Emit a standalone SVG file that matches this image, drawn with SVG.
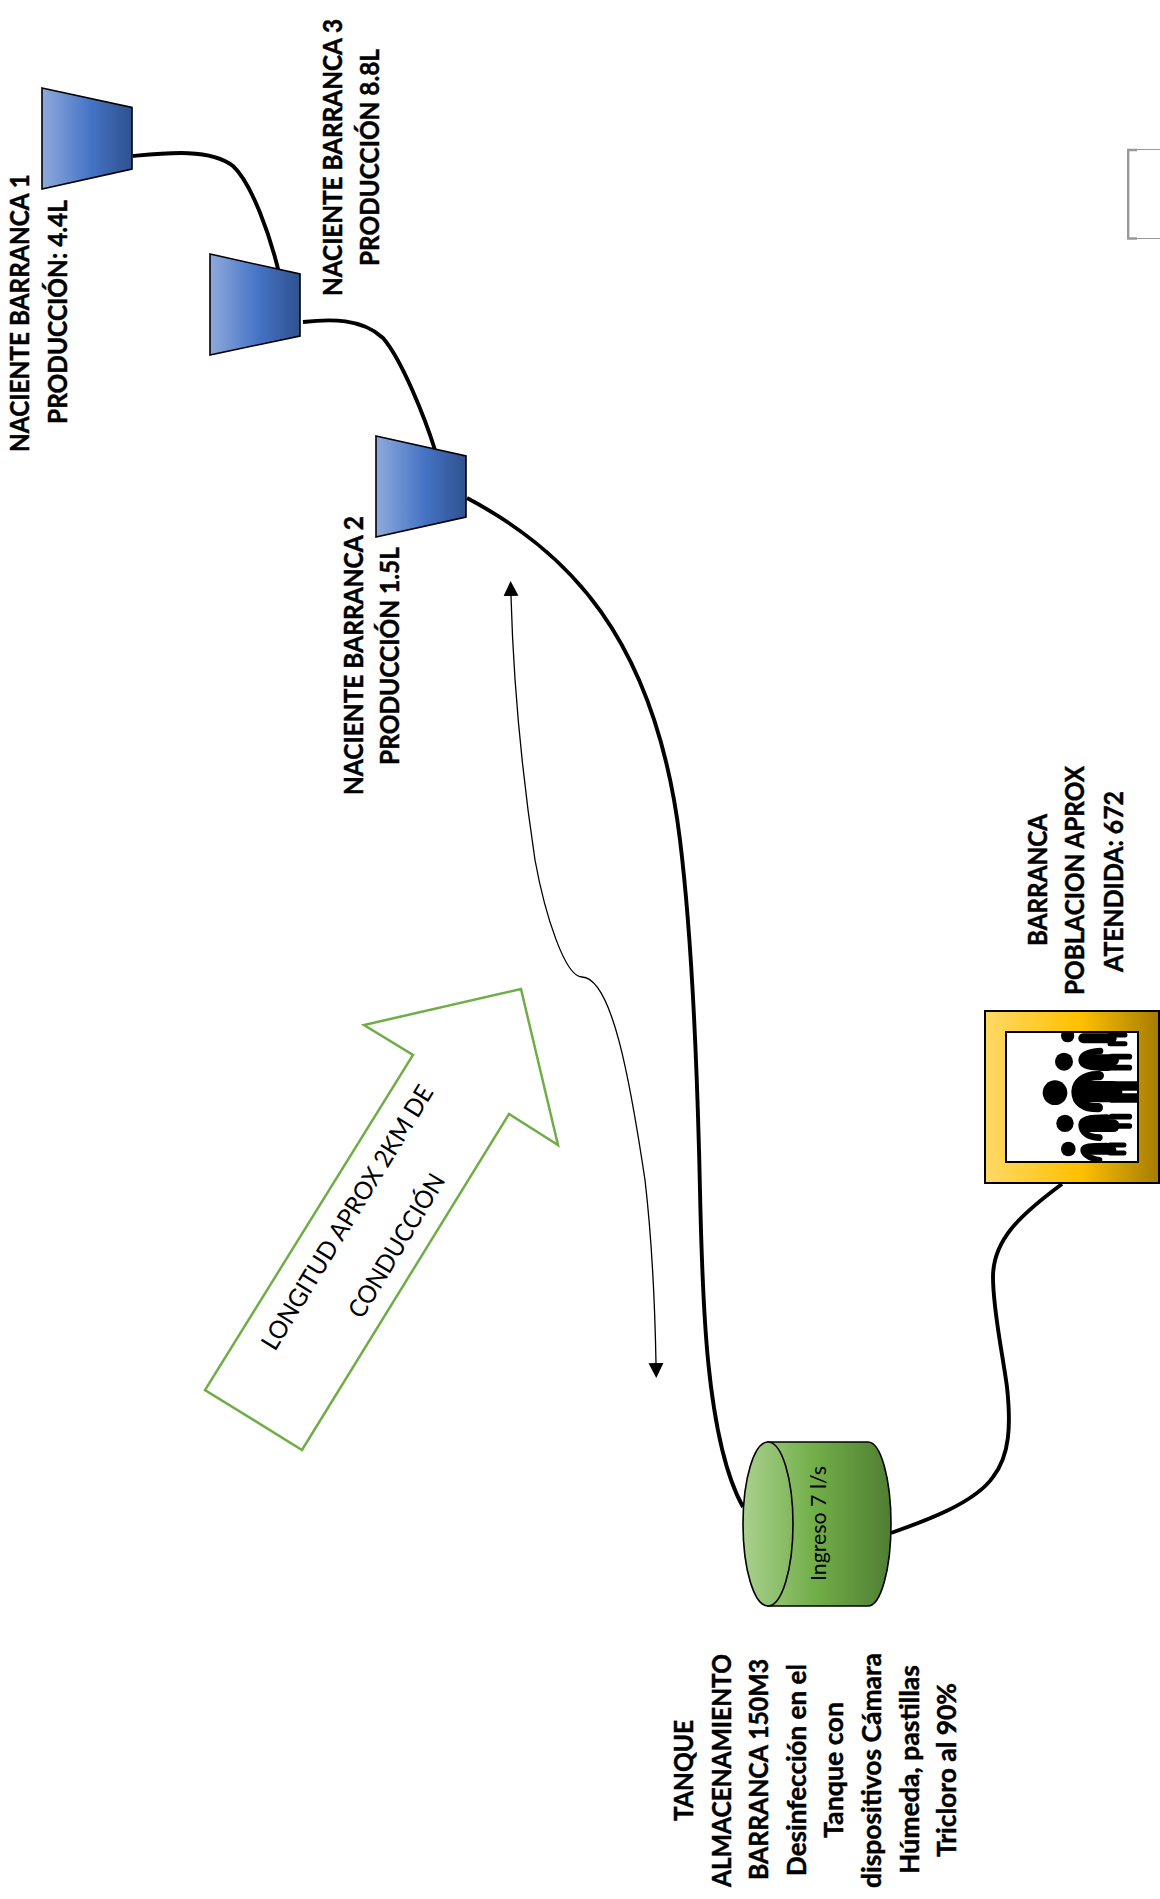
<svg xmlns="http://www.w3.org/2000/svg" width="1160" height="1899" viewBox="0 0 1160 1899">
<style>
text{font-family:"Lato","Open Sans","Liberation Sans",sans-serif;fill:#000}
.b{font-weight:700;font-size:26px;stroke:#000;stroke-width:.45}
.r{font-size:25px}
.trap{stroke:#000;stroke-width:1.6}
.wire{fill:none;stroke:#000;stroke-width:3.9}
.thin{fill:none;stroke:#000;stroke-width:1.3}
.person{fill:none;stroke:#000;stroke-linecap:round;stroke-linejoin:round}
</style>
<defs>
<linearGradient id="g1" gradientUnits="userSpaceOnUse" x1="42" x2="132" y1="0" y2="0"><stop offset="0" stop-color="#8faadc"/><stop offset=".55" stop-color="#4472c4"/><stop offset="1" stop-color="#2f528f"/></linearGradient>
<linearGradient id="g2" href="#g1" gradientUnits="userSpaceOnUse" x1="210" x2="300" y1="0" y2="0"/>
<linearGradient id="g3" href="#g1" gradientUnits="userSpaceOnUse" x1="376" x2="466" y1="0" y2="0"/>
<linearGradient id="gg" gradientUnits="userSpaceOnUse" x1="743" x2="891" y1="0" y2="0"><stop offset="0" stop-color="#a9d18e"/><stop offset=".5" stop-color="#70ad47"/><stop offset="1" stop-color="#507e32"/></linearGradient>
<linearGradient id="gy" gradientUnits="userSpaceOnUse" x1="985" x2="1159" y1="0" y2="0"><stop offset="0" stop-color="#ffd966"/><stop offset=".55" stop-color="#ffc000"/><stop offset="1" stop-color="#a67c00"/></linearGradient>
<marker id="tri" markerUnits="userSpaceOnUse" markerWidth="16" markerHeight="16" refX="0" refY="8" orient="auto-start-reverse"><path d="M0 0.5L15 8L0 15.5Z" fill="#000"/></marker>
<clipPath id="ic"><rect x="1006" y="1032" width="132" height="130"/></clipPath>
<filter id="soft" x="-5%" y="-5%" width="110%" height="110%"><feGaussianBlur stdDeviation="0.7"/></filter>
</defs>
<rect width="1160" height="1899" fill="#fff"/>

<g id="connectors">
<path class="wire" d="M133 156C165 153 210 148 233 166C252 184 270 235 279 273"/>
<path class="wire" d="M303 322C330 319 362 318 383 338C402 360 425 418 435 450"/>
<path class="wire" d="M467 498C565 550 655 635 680 840C688 905 695 1000 699 1150C702 1250 700 1430 743 1507"/>
<path class="wire" d="M891 1533C925 1521 975 1503 993 1477C1010 1455 1011 1425 1007 1387C1002 1350 993 1310 993 1277C993 1240 1020 1215 1062 1184"/>
<path class="thin" marker-start="url(#tri)" marker-end="url(#tri)" d="M511 596C513 670 520 760 535 860C545 915 565 977 582 977C612 978 630 1080 645 1180C652 1240 655 1310 656 1363"/>
</g>

<g id="naciente-1">
<polygon class="trap" points="42,88 132,107.5 132,169 42,189" fill="url(#g1)"/>
<text class="b" transform="translate(29,452) rotate(-90)" textLength="278" lengthAdjust="spacingAndGlyphs">NACIENTE BARRANCA 1</text>
<text class="b" transform="translate(67,424) rotate(-90)" textLength="224" lengthAdjust="spacingAndGlyphs">PRODUCCIÓN: 4.4L</text>
</g>
<g id="naciente-3">
<polygon class="trap" points="210,254 300,274 300,336 210,355" fill="url(#g2)"/>
<text class="b" transform="translate(342,296) rotate(-90)" textLength="277" lengthAdjust="spacingAndGlyphs">NACIENTE BARRANCA 3</text>
<text class="b" transform="translate(379,266) rotate(-90)" textLength="217" lengthAdjust="spacingAndGlyphs">PRODUCCIÓN 8.8L</text>
</g>
<g id="naciente-2">
<polygon class="trap" points="376,436 466,456 466,517 376,537" fill="url(#g3)"/>
<text class="b" transform="translate(363,795) rotate(-90)" textLength="279" lengthAdjust="spacingAndGlyphs">NACIENTE BARRANCA 2</text>
<text class="b" transform="translate(399,765) rotate(-90)" textLength="218" lengthAdjust="spacingAndGlyphs">PRODUCCIÓN 1.5L</text>
</g>

<g id="flecha-longitud">
<polygon points="521,989 558,1145 509,1114 302,1450 205,1390 413,1055 364,1025" fill="none" stroke="#70ad47" stroke-width="2.5"/>
<text class="r" transform="translate(275,1352) rotate(-58.5)" textLength="305" lengthAdjust="spacingAndGlyphs">LONGITUD APROX 2KM DE</text>
<text class="r" transform="translate(362,1320) rotate(-59)" textLength="163" lengthAdjust="spacingAndGlyphs">CONDUCCIÓN</text>
</g>

<g id="poblacion">
<rect x="985" y="1011" width="174" height="172" fill="url(#gy)" stroke="#000" stroke-width="2"/>
<rect x="1006" y="1032" width="132" height="130" fill="#fff" stroke="#000" stroke-width="2"/>
<g clip-path="url(#ic)"><g filter="url(#soft)"><g transform="translate(1000,1025) scale(.3333)">
<circle cx="165" cy="203" r="37" fill="#000"/><circle cx="192" cy="110" r="27" fill="#000"/><circle cx="195" cy="295" r="26" fill="#000"/><circle cx="205" cy="372" r="22" fill="#000"/><circle cx="203" cy="32" r="20" fill="#000"/>
<g class="person">
<path stroke-width="28" d="M298 152C250 150 228 175 228 200C228 230 250 248 295 248"/>
<path stroke-width="64" d="M250 200H335"/>
<path stroke-width="28" d="M335 183H412M335 219H412"/>
<path stroke-width="20" d="M300 78C262 80 245 92 245 105C245 122 270 128 325 128"/>
<path stroke-width="34" d="M262 105H340"/>
<path stroke-width="17" d="M335 95H388M335 128H388"/>
<path stroke-width="20" d="M298 338C262 336 245 320 245 300C245 285 262 278 320 278"/>
<path stroke-width="38" d="M262 302H340"/>
<path stroke-width="17" d="M335 275H388M335 303H388"/>
<path stroke-width="18" d="M298 405C265 400 250 385 250 375C250 365 270 362 320 362"/>
<path stroke-width="28" d="M262 375H335"/>
<path stroke-width="15" d="M330 360H372M330 384H372"/>
<path stroke-width="30" d="M250 40H335"/>
<path stroke-width="15" d="M330 30H375M330 56H375"/>
</g></g></g></g>
<text class="b" transform="translate(1047,946) rotate(-90)" textLength="132" lengthAdjust="spacingAndGlyphs">BARRANCA</text>
<text class="b" transform="translate(1084,995) rotate(-90)" textLength="229" lengthAdjust="spacingAndGlyphs">POBLACION APROX</text>
<text class="b" transform="translate(1123,972) rotate(-90)" textLength="181" lengthAdjust="spacingAndGlyphs">ATENDIDA: 672</text>
</g>

<g id="tanque">
<path d="M768 1442H868A23 82 0 0 1 868 1606H768Z" fill="url(#gg)" stroke="#000" stroke-width="1.6"/>
<ellipse cx="768" cy="1524" rx="25" ry="82" fill="url(#gg)" stroke="#000" stroke-width="1.6"/>
<text transform="translate(826,1581) rotate(-90)" font-size="21" textLength="115" lengthAdjust="spacingAndGlyphs">Ingreso 7 l/s</text>
<text class="b" transform="translate(693,1821) rotate(-90)" textLength="101" lengthAdjust="spacingAndGlyphs">TANQUE</text>
<text class="b" transform="translate(731,1887) rotate(-90)" textLength="233" lengthAdjust="spacingAndGlyphs">ALMACENAMIENTO</text>
<text class="b" transform="translate(768,1880) rotate(-90)" textLength="221" lengthAdjust="spacingAndGlyphs">BARRANCA 150M3</text>
<text class="b" transform="translate(806,1876) rotate(-90)" textLength="212" lengthAdjust="spacingAndGlyphs">Desinfección en el</text>
<text class="b" transform="translate(843,1838) rotate(-90)" textLength="136" lengthAdjust="spacingAndGlyphs">Tanque con</text>
<text class="b" transform="translate(881,1888) rotate(-90)" textLength="235" lengthAdjust="spacingAndGlyphs">dispositivos Cámara</text>
<text class="b" transform="translate(919,1874) rotate(-90)" textLength="209" lengthAdjust="spacingAndGlyphs">Húmeda, pastillas</text>
<text class="b" transform="translate(956,1857) rotate(-90)" textLength="174" lengthAdjust="spacingAndGlyphs">Tricloro al 90%</text>
</g>

<g id="marco-gris" fill="none" stroke="#999">
<path d="M1160 149.500H1128V238.500H1160" stroke-width="1"/>
<path d="M1137 150H1128.200V238.500H1137" stroke-width="2.400"/>
</g>
</svg>
